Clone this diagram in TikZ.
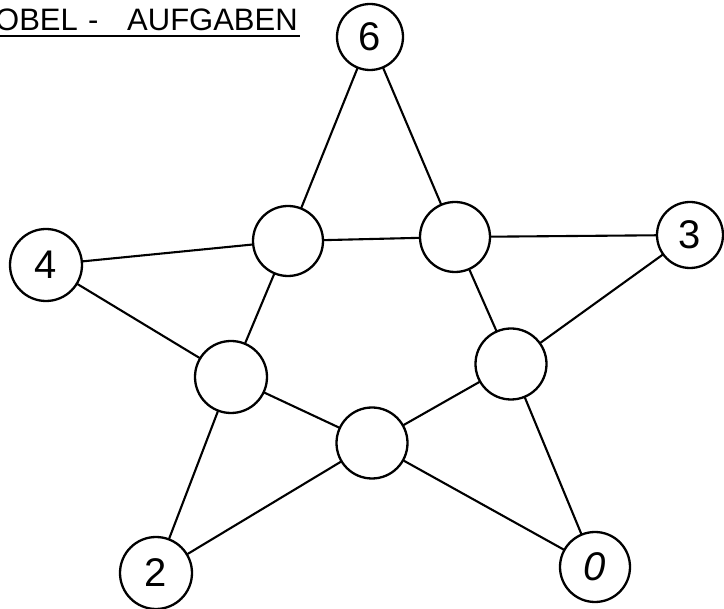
\documentclass[tikz,border=0pt]{standalone}
\usepackage{fontspec}
\setmainfont{Liberation Sans}
\begin{document}
\begin{tikzpicture}[x=1pt,y=-1pt,
  ring/.style={draw,circle,line width=2.3pt,inner sep=0pt,minimum size=70pt,font=\fontsize{40}{40}\selectfont},
  titletext/.style={anchor=base west,inner sep=0pt,font=\fontsize{31}{31}\selectfont},
  edge/.style={line width=2.1pt,line cap=round}]
\useasboundingbox (0,0) rectangle (724,609);
% title
\node[titletext] (t1) at (-5,31) {OBEL};
\node[titletext] (t2) at (88,31) {-};
\node[titletext] (t3) at (127,31) {AUFGABEN};
\coordinate (ul1) at (0,36);
\coordinate (ul2) at (300,36);
\draw[line width=2pt] (ul1) -- (ul2);
% outer nodes
\node[ring,minimum size=66pt] (n6) at (370,37) {6};
\node[ring,minimum size=72pt] (n4) at (46,265) {4};
\node[ring,minimum size=66pt] (n3) at (690,235) {3};
\node[ring,minimum size=72pt] (n2) at (156,573) {2};
\node[ring] (n0) at (595,567) {\itshape 0};
% inner nodes
\node[ring] (tl) at (288,241) {};
\node[ring] (tr) at (455,237) {};
\node[ring,minimum size=71pt] (r) at (511,364) {};
\node[ring,minimum size=72pt] (l) at (231,377) {};
\node[ring,minimum size=71pt] (b) at (372,443) {};
% edges
\draw[edge] (n6) -- (tl);
\draw[edge] (n6) -- (tr);
\draw[edge] (n4) -- (tl);
\draw[edge] (n4) -- (l);
\draw[edge] (n3) -- (tr);
\draw[edge] (n3) -- (r);
\draw[edge] (n2) -- (l);
\draw[edge] (n2) -- (b);
\draw[edge] (n0) -- (r);
\draw[edge] (n0) -- (b);
\draw[edge] (tl) -- (tr);
\draw[edge] (tl) -- (l);
\draw[edge] (tr) -- (r);
\draw[edge] (l) -- (b);
\draw[edge] (r) -- (b);
\end{tikzpicture}
\end{document}
